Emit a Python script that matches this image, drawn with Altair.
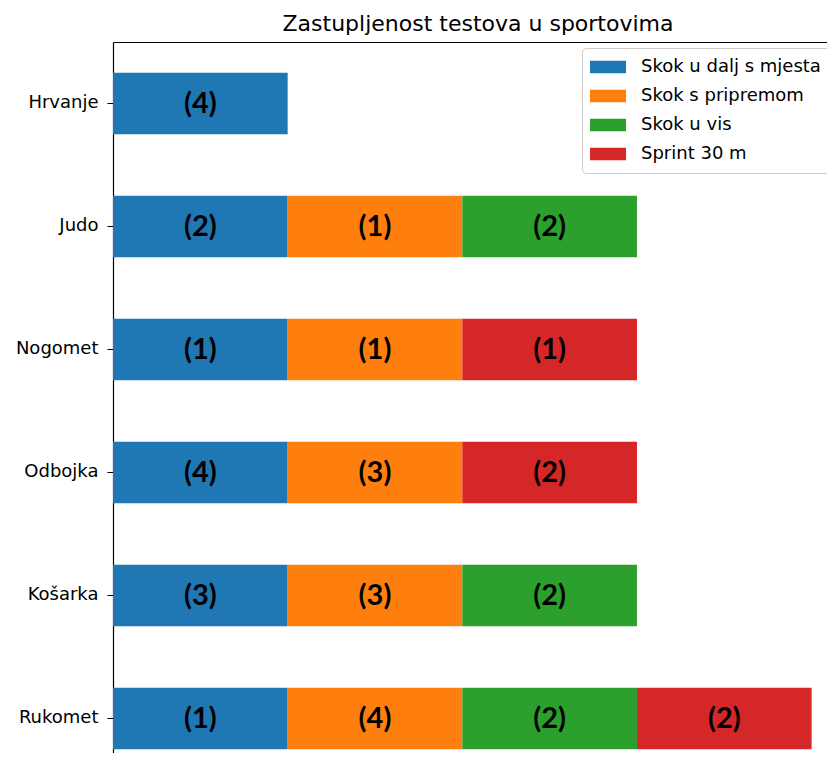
import altair as alt
import pandas as pd

sports = ["Hrvanje", "Judo", "Nogomet", "Odbojka", "Košarka", "Rukomet"]
tests = ["Skok u dalj s mjesta", "Skok s pripremom", "Skok u vis", "Sprint 30 m"]
colors = ["#1f77b4", "#ff7f0e", "#2ca02c", "#d62728"]

# number of tests of each type per sport (None = test not used)
hrvanje = [4, None, None, None]
judo = [2, 1, 2, None]
nogomet = [1, 1, None, 1]
odbojka = [4, 3, None, 2]
kosarka = [3, 3, 2, None]
rukomet = [1, 4, 2, 2]
counts = [hrvanje, judo, nogomet, odbojka, kosarka, rukomet]

rows = []
for s, cs in zip(sports, counts):
    for i, (t, c) in enumerate(zip(tests, cs)):
        if c is not None:
            rows.append({"sport": s, "test": t, "idx": i, "present": 1,
                         "label": f"({c})"})
df = pd.DataFrame(rows)

base = alt.Chart(df).transform_stack(
    stack="present", as_=["x0", "x1"], groupby=["sport"],
    sort=[alt.SortField("idx", order="ascending")]
).transform_calculate(xm="(datum.x0 + datum.x1) / 2")

yscale = alt.Scale(paddingInner=0.5, paddingOuter=0.14, align=0.891,
                   round=False)
yenc = alt.Y(
    "sport:N", sort=sports, scale=yscale,
    axis=alt.Axis(title=None, orient="left", domain=True, domainColor="black",
                  domainWidth=1.2, ticks=True, tickColor="black", tickSize=6,
                  tickWidth=1, labelFontSize=18, labelFont="DejaVu Sans",
                  labelColor="black", labelPadding=9, grid=False),
)
xscale = alt.Scale(domain=[0, 4.088], nice=False, zero=True)

bars = base.mark_bar(strokeWidth=0).encode(
    y=yenc,
    x=alt.X("x0:Q", scale=xscale,
            axis=alt.Axis(orient="top", labels=False, ticks=False, domain=True,
                          domainColor="black", domainWidth=1.2, grid=False,
                          title=None)),
    x2="x1:Q",
    color=alt.Color(
        "test:N", scale=alt.Scale(domain=tests, range=colors),
        legend=alt.Legend(
            title=None, orient="none", legendX=469, legendY=6,
            symbolType="M-1.22,-0.7H2.78V0.7H-1.22Z", symbolSize=324,
            symbolStrokeWidth=0, symbolOpacity=1,
            labelFontSize=18, labelFont="DejaVu Sans", labelColor="black",
            labelLimit=400, labelOffset=31, padding=10, rowPadding=11,
            strokeColor="#cccccc", fillColor="white", cornerRadius=4,
        ),
    ),
)

texts = base.mark_text(font="Lato", fontWeight="bold", fontSize=29,
                       color="black", baseline="middle", align="center",
                       dy=1).encode(
    y=alt.Y("sport:N", sort=sports, scale=yscale),
    x=alt.X("xm:Q", scale=xscale),
    text="label:N",
)

chart = alt.layer(bars, texts).properties(
    width=714, height=711,
    title=alt.TitleParams("Zastupljenost testova u sportovima", fontSize=22,
                          font="DejaVu Sans", fontWeight="normal",
                          color="black", anchor="middle", dx=8, offset=-11,
                          baseline="alphabetic"),
    autosize=alt.AutoSizeParams(type="none"),
    padding={"left": 105, "top": 34, "right": 0, "bottom": 0},
).configure_view(stroke=None)

chart.save("out.html", embed_options={"renderer": "svg", "actions": False})
